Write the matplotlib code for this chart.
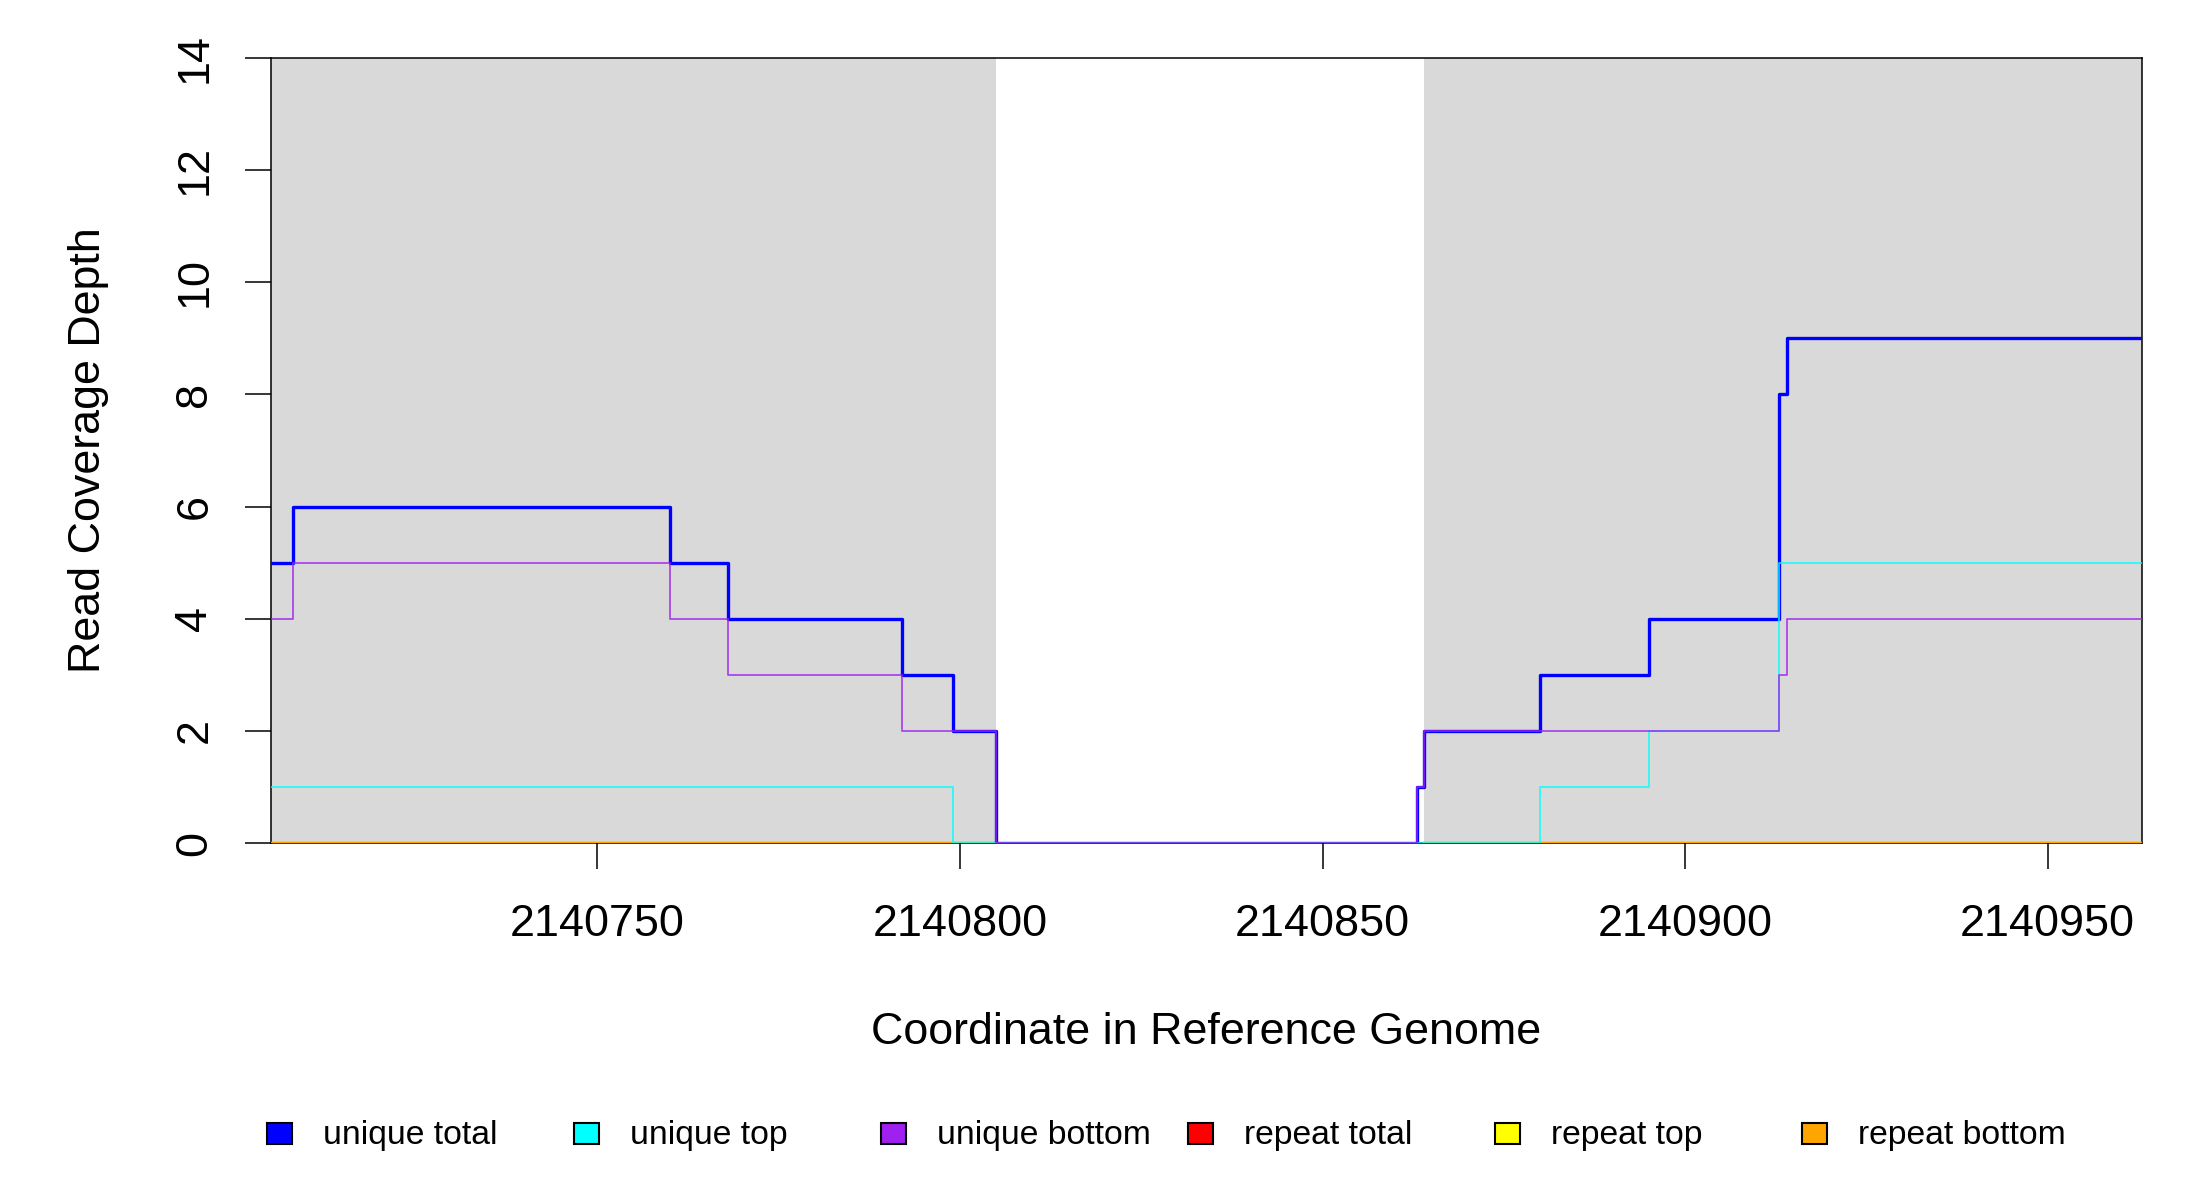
import numpy as np
import matplotlib
matplotlib.use("Agg")
import matplotlib.pyplot as plt
from matplotlib.patches import Rectangle

plt.rcParams['font.family'] = ['Liberation Sans', 'DejaVu Sans']

# coverage step data (start coordinate of each step, depth)
unique_total_x = [2140705, 2140708, 2140760, 2140768, 2140792, 2140799, 2140805,
                  2140863, 2140864, 2140880, 2140895, 2140913, 2140914, 2140963]
unique_total_y = [5, 6, 5, 4, 3, 2, 0, 1, 2, 3, 4, 8, 9, 9]
unique_top_x = [2140705, 2140799, 2140880, 2140895, 2140913, 2140963]
unique_top_y = [1, 0, 1, 2, 5, 5]
unique_bottom_x = [2140705, 2140708, 2140760, 2140768, 2140792, 2140805,
                   2140863, 2140864, 2140913, 2140914, 2140963]
unique_bottom_y = [4, 5, 4, 3, 2, 0, 1, 2, 3, 4, 4]

# repeat coverage only exists within the read regions, all zero
read_regions = [(2140705, 2140805), (2140864, 2140963)]
repeat_total_y = [0, 0]
repeat_top_y = [0, 0]
repeat_bottom_y = [0, 0]

xlim = (2140705, 2140963)
xticks = [2140750, 2140800, 2140850, 2140900, 2140950]
yticks = [0, 2, 4, 6, 8, 10, 12, 14]

legend_names = ['unique total', 'unique top', 'unique bottom',
                'repeat total', 'repeat top', 'repeat bottom']
legend_colors = ['#0000FF', '#00FFFF', '#A020F0', '#FF0000', '#FFFF00', '#FFA500']


def draw():
  fig = plt.figure(figsize=(22, 12), dpi=100)
  ax = fig.add_axes([271/2200, 1-843/1200, (2142-271)/2200, (843-58)/1200])

  # shaded read regions
  for a, b in read_regions:
    ax.axvspan(a, b, color='#D9D9D9', lw=0, zorder=0)

  # repeat lines
  for (a, b) in read_regions:
    ax.plot([a, b], repeat_total_y, color='#FF0000', lw=1.6, zorder=2)
    ax.plot([a, b], repeat_top_y, color='#FFFF00', lw=1.6, zorder=2)
    ax.plot([a, b], repeat_bottom_y, color='#FFA500', lw=1.6, zorder=2)

  # unique lines
  ax.step(unique_total_x, unique_total_y, where='post', color='#0000FF', lw=2.4, zorder=3)
  ax.step(unique_top_x, unique_top_y, where='post', color='#00FFFF', lw=1.3, alpha=0.8, zorder=4)
  ax.step(unique_bottom_x, unique_bottom_y, where='post', color='#A020F0', lw=1.3, alpha=0.8, zorder=5)

  ax.set_xlim(*xlim)
  ax.set_ylim(0, 14)
  ax.set_xticks(xticks)
  ax.set_xticklabels([str(t) for t in xticks], fontsize=32.3)
  ax.set_yticks(yticks)
  ax.set_yticklabels([str(t) for t in yticks], fontsize=32.3, rotation=90, va='center')
  ax.tick_params(axis='both', length=19, width=1.1, direction='out')
  ax.tick_params(axis='y', pad=21)
  ax.tick_params(axis='x', pad=25)
  for s in ax.spines.values():
    s.set_linewidth(1.1)
    s.set_zorder(1)

  fig.text(89/2200, 1-(58+843)/2/1200, 'Read Coverage Depth', rotation=90,
           ha='center', va='center', fontsize=32.3)
  fig.text((271+2142)/2/2200, 1-1032/1200, 'Coordinate in Reference Genome',
           ha='center', va='center', fontsize=32.3)

  # legend row along the bottom
  for i, (name, col) in enumerate(zip(legend_names, legend_colors)):
    x0 = 267 + i*307
    fig.add_artist(Rectangle((x0/2200, 1-1144/1200), 25/2200, 21/1200,
                             transform=fig.transFigure, facecolor=col,
                             edgecolor='black', lw=1.5))
    fig.text((x0+56)/2200, 1-1144/1200, name, ha='left', va='baseline', fontsize=24.3)

  fig.savefig('out.png', dpi=100)


if __name__ == '__main__':
  draw()
